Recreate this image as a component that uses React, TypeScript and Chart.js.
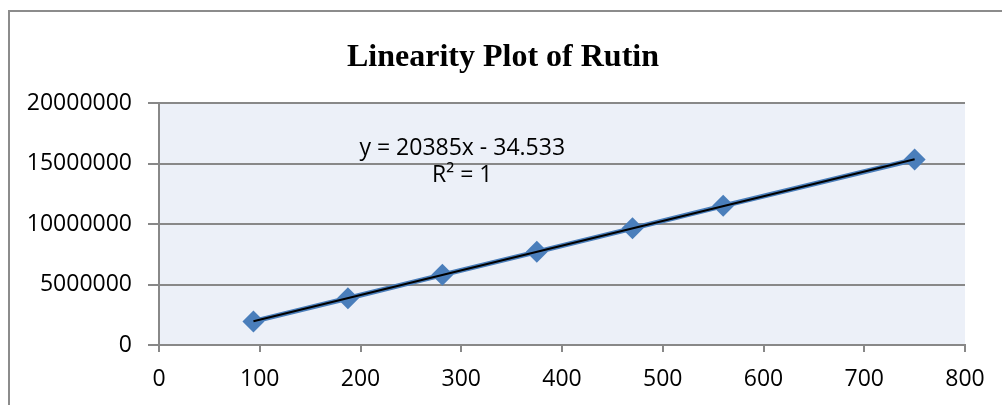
import React, { useEffect, useRef } from "react";
import { Chart, registerables } from "chart.js";

Chart.register(...registerables);

const TITLE = "Linearity Plot of Rutin";
const concentrations = [93.75, 187.5, 281.25, 375, 470, 560, 750];
const peakAreas = [1950000, 3860000, 5800000, 7700000, 9640000, 11500000, 15330000];
const equationLines = ["y = 20385x - 34.533", "R\u00B2 = 1"];
const equationAnchorX = 301;
const equationAnchorY = [16280000, 14000000];
const xTicks = { min: 0, max: 800, step: 100 };
const yTicks = { min: 0, max: 20000000, step: 5000000 };

const SANS = "'Open Sans', 'Noto Sans', sans-serif";

function fitLine(xs: number[], ys: number[]) {
  const n = xs.length;
  const mx = xs.reduce((a, b) => a + b, 0) / n;
  const my = ys.reduce((a, b) => a + b, 0) / n;
  let sxy = 0;
  let sxx = 0;
  for (let i = 0; i < n; i++) {
    sxy += (xs[i] - mx) * (ys[i] - my);
    sxx += (xs[i] - mx) * (xs[i] - mx);
  }
  const slope = sxy / sxx;
  return { slope, intercept: my - slope * mx };
}

export default function App() {
  const ref = useRef<HTMLCanvasElement | null>(null);

  useEffect(() => {
    if (!ref.current) return;
    const fit = fitLine(concentrations, peakAreas);
    const x0 = Math.min(...concentrations);
    const x1 = Math.max(...concentrations);

    const bgPlugin = {
      id: "plotBg",
      beforeDraw(chart: any) {
        const { ctx, chartArea } = chart;
        ctx.save();
        ctx.fillStyle = "#ECF0F8";
        ctx.fillRect(chartArea.left, chartArea.top, chartArea.right - chartArea.left, chartArea.bottom - chartArea.top);
        ctx.restore();
      },
    };

    const textPlugin = {
      id: "texts",
      afterDraw(chart: any) {
        const { ctx } = chart;
        ctx.save();
        ctx.fillStyle = "#000";
        ctx.textAlign = "center";
        ctx.textBaseline = "middle";
        ctx.font = "bold 32px 'Liberation Serif', 'Times New Roman', serif";
        ctx.fillText(TITLE, 503, 58);
        ctx.font = "23px " + SANS;
        const xs = chart.scales.x;
        const ys = chart.scales.y;
        equationLines.forEach((line, i) => {
          ctx.fillText(line, xs.getPixelForValue(equationAnchorX), ys.getPixelForValue(equationAnchorY[i]));
        });
        ctx.restore();
      },
    };

    const chart = new Chart(ref.current, {
      type: "scatter",
      data: {
        datasets: [
          {
            label: "Trendline",
            data: [
              { x: x0, y: fit.slope * x0 + fit.intercept },
              { x: x1, y: fit.slope * x1 + fit.intercept },
            ],
            showLine: true,
            borderColor: "#000000",
            borderWidth: 2,
            pointRadius: 0,
            order: 0,
          } as any,
          {
            label: "Rutin",
            data: concentrations.map((x, i) => ({ x, y: peakAreas[i] })),
            showLine: true,
            borderColor: "#4A7EBB",
            borderWidth: 5,
            backgroundColor: "#4A7EBB",
            pointBackgroundColor: "#4A7EBB",
            pointBorderWidth: 0,
            pointStyle: "rectRot",
            pointRadius: 11,
            order: 1,
          } as any,
        ],
      },
      options: {
        responsive: false,
        animation: false,
        layout: { padding: { top: 103, left: 0, right: 37, bottom: 0 } },
        plugins: {
          legend: { display: false },
          tooltip: { enabled: false },
          title: { display: false },
        },
        scales: {
          x: {
            type: "linear",
            min: xTicks.min,
            max: xTicks.max,
            ticks: {
              stepSize: xTicks.step,
              color: "#000",
              font: { family: SANS, size: 23 },
              padding: 14,
              maxRotation: 0,
            },
            grid: {
              drawOnChartArea: false,
              drawTicks: true,
              tickLength: 7,
              color: "#888888",
              lineWidth: 2,
            },
            border: { display: true, color: "#888888", width: 2 },
            afterFit(scale: any) {
              scale.height = 60;
            },
          },
          y: {
            type: "linear",
            min: yTicks.min,
            max: yTicks.max,
            ticks: {
              stepSize: yTicks.step,
              color: "#000",
              font: { family: SANS, size: 23 },
              padding: 16,
              callback: (v: any) => String(v),
            },
            grid: {
              drawOnChartArea: true,
              drawTicks: true,
              tickLength: 11,
              color: "#888888",
              lineWidth: 2,
            },
            border: { display: true, color: "#888888", width: 2 },
            afterFit(scale: any) {
              scale.width = 159;
            },
          },
        },
      },
      plugins: [bgPlugin, textPlugin],
    } as any);

    return () => chart.destroy();
  }, []);

  return (
    <div style={{ position: "fixed", left: 0, top: 0, width: 1002, height: 405, overflow: "hidden", background: "#fff" }}>
      <div
        style={{
          position: "absolute",
          left: 8,
          top: 10,
          width: 1100,
          height: 600,
          borderTop: "2px solid #8C8C8C",
          borderLeft: "2px solid #8C8C8C",
        }}
      />
      <canvas ref={ref} width={1002} height={405} style={{ position: "absolute", left: 0, top: 0, display: "block" }} />
    </div>
  );
}
